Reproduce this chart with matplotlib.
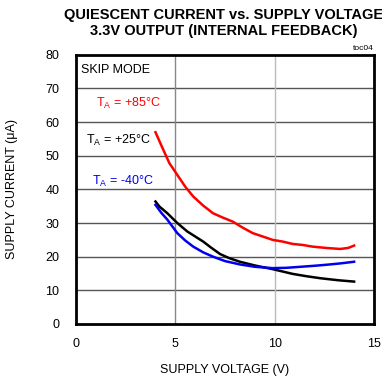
import matplotlib.pyplot as plt

plt.rcParams['font.family'] = ['Liberation Sans', 'DejaVu Sans']

# curvas
v85 = [4.0, 4.3, 4.7, 5.1, 5.5, 5.9, 6.4, 6.9, 7.4, 7.9, 8.4, 8.9, 9.4, 9.9, 10.4, 10.9, 11.4, 11.9, 12.6, 13.3, 13.7, 14.0]
i85 = [57.0, 53.0, 47.8, 44.3, 40.8, 37.9, 35.2, 32.9, 31.6, 30.4, 28.6, 27.0, 26.0, 25.0, 24.5, 23.8, 23.5, 23.0, 22.6, 22.3, 22.6, 23.3]

v25 = [4.0, 4.2, 4.6, 5.1, 5.6, 6.0, 6.4, 6.8, 7.25, 7.7, 8.25, 9.0, 9.9, 10.9, 11.6, 12.3, 13.2, 14.0]
i25 = [36.4, 34.9, 32.9, 30.0, 27.5, 26.0, 24.5, 22.7, 20.8, 19.6, 18.5, 17.4, 16.3, 14.9, 14.2, 13.6, 13.0, 12.6]

vm40 = [4.0, 4.3, 4.6, 5.1, 5.5, 5.9, 6.4, 6.9, 7.5, 8.25, 9.0, 9.9, 10.6, 11.3, 12.0, 12.6, 13.3, 14.0]
im40 = [35.4, 33.0, 31.0, 27.0, 24.8, 23.0, 21.3, 20.0, 18.7, 17.7, 17.0, 16.6, 16.7, 17.0, 17.3, 17.6, 18.0, 18.5]

xticks = [0, 5, 10, 15]
yticks = [0, 10, 20, 30, 40, 50, 60, 70, 80]

fig = plt.figure(figsize=(3.82, 3.77), dpi=100)
ax = fig.add_axes([0.199, 0.1406, 0.78, 0.714])

for yv in yticks[1:-1]:
    ax.axhline(yv, color='#555555', lw=1, zorder=1)
ax.axvline(5, color='#888888', lw=1, zorder=1)
ax.axvline(10, color='#bbbbbb', lw=1, zorder=1)

ax.plot(v85, i85, color='#ff0000', lw=1.8, zorder=3)
ax.plot(v25, i25, color='black', lw=1.8, zorder=3)
ax.plot(vm40, im40, color='#0000ee', lw=1.8, zorder=3)

ax.set_xlim(0, 15)
ax.set_ylim(0, 80)
ax.set_xticks(xticks)
ax.set_yticks(yticks)
ax.tick_params(axis='x', length=0, labelsize=9, pad=10)
ax.tick_params(axis='y', length=0, labelsize=9, pad=12)
for s in ax.spines.values():
    s.set_linewidth(2)

ax.text(0.25, 75.5, 'SKIP MODE', fontsize=9, va='center')
ax.text(1.0, 65.5, r'T$_\mathregular{A}$ = +85°C', fontsize=9, color='#ff0000', va='center')
ax.text(0.5, 54.5, r'T$_\mathregular{A}$ = +25°C', fontsize=9, color='black', va='center')
ax.text(0.8, 42.5, r'T$_\mathregular{A}$ = -40°C', fontsize=9, color='#0000ee', va='center')
ax.text(15, 80.8, 'toc04', fontsize=6, ha='right', va='bottom')

ax.set_xlabel('SUPPLY VOLTAGE (V)', fontsize=9, labelpad=10)
ax.set_ylabel('SUPPLY CURRENT (μA)', fontsize=9, labelpad=20)

fig.text(0.585, 0.98, 'QUIESCENT CURRENT vs. SUPPLY VOLTAGE\n3.3V OUTPUT (INTERNAL FEEDBACK)',
         ha='center', va='top', fontsize=10.5, fontweight='bold', linespacing=1.2)

fig.savefig('out.png', dpi=100)
